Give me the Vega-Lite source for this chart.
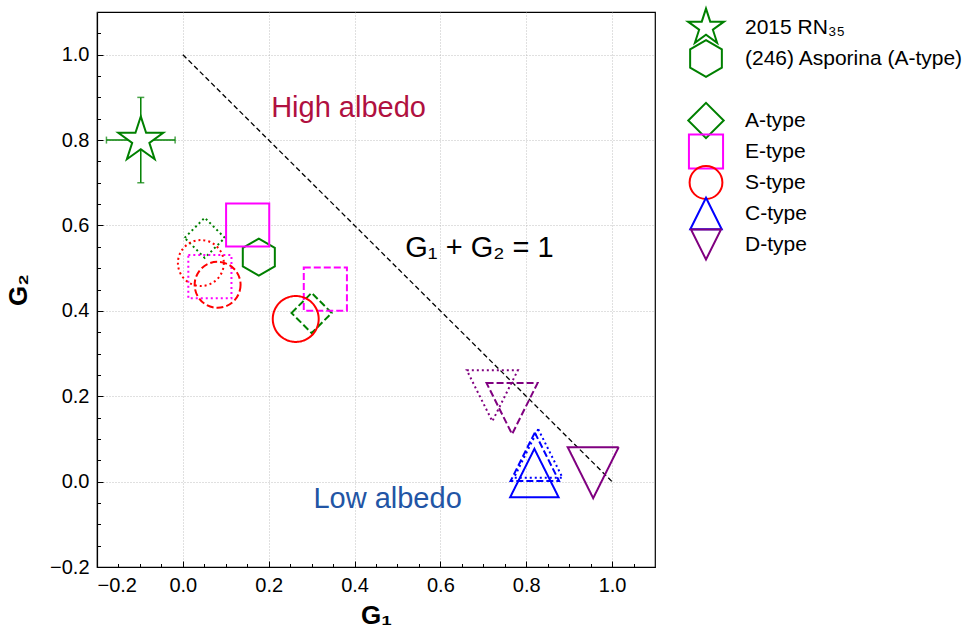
{
  "$schema": "https://vega.github.io/schema/vega-lite/v6.json",
  "padding": {"left": 4, "top": 4, "right": 5, "bottom": 3},
  "background": "white",
  "config": {
    "font": "Liberation Sans",
    "view": {"stroke": null},
    "concat": {"spacing": 28}
  },
  "datasets": {
    "points": [
      {"cls": "(246) Asporina (A-type)", "sample": "I", "G1": 0.177, "G2": 0.526},
      {"cls": "A-type", "sample": "III", "G1": 0.051, "G2": 0.571},
      {"cls": "A-type", "sample": "II", "G1": 0.300, "G2": 0.395},
      {"cls": "E-type", "sample": "I", "G1": 0.151, "G2": 0.601},
      {"cls": "E-type", "sample": "II", "G1": 0.332, "G2": 0.451},
      {"cls": "E-type", "sample": "III", "G1": 0.063, "G2": 0.480},
      {"cls": "S-type", "sample": "I", "G1": 0.263, "G2": 0.381},
      {"cls": "S-type", "sample": "II", "G1": 0.081, "G2": 0.461},
      {"cls": "S-type", "sample": "III", "G1": 0.042, "G2": 0.512},
      {"cls": "C-type", "sample": "I", "G1": 0.819, "G2": 0.020},
      {"cls": "C-type", "sample": "II", "G1": 0.820, "G2": 0.058},
      {"cls": "C-type", "sample": "III", "G1": 0.828, "G2": 0.066},
      {"cls": "D-type", "sample": "I", "G1": 0.956, "G2": 0.021},
      {"cls": "D-type", "sample": "II", "G1": 0.767, "G2": 0.171},
      {"cls": "D-type", "sample": "III", "G1": 0.721, "G2": 0.201}
    ],
    "star": [
      {"cls": "2015 RN₃₅", "G1": -0.098, "G2": 0.8, "G1err": 0.08, "G2err": 0.1}
    ],
    "diag": [
      {"G1": 0.0, "G2": 1.0},
      {"G1": 1.0, "G2": 0.0}
    ],
    "notes": [
      {"note": "High albedo", "G1": 0.386, "G2": 0.854},
      {"note": "Low albedo", "G1": 0.477, "G2": -0.061},
      {"note": "G₁ + G₂ = 1", "G1": 0.691, "G2": 0.526}
    ],
    "legend": [
      {"cls": "2015 RN₃₅"},
      {"cls": "(246) Asporina (A-type)"},
      {"cls": "A-type"},
      {"cls": "E-type"},
      {"cls": "S-type"},
      {"cls": "C-type"},
      {"cls": "D-type"}
    ]
  },
  "resolve": {"scale": {"x": "independent", "y": "independent", "shape": "independent", "size": "independent", "color": "independent", "stroke": "independent", "strokeDash": "independent"}},
  "hconcat": [
    {
      "width": 558,
      "height": 555,
      "view": {"stroke": "black", "strokeWidth": 1.2},
      "resolve": {"axis": {"x": "independent", "y": "independent"}},
      "layer": [
        {
          "data": {"name": "diag"},
          "mark": {"type": "line", "color": "black", "strokeDash": [5, 3], "strokeWidth": 1.3},
          "encoding": {
            "x": {
              "field": "G1", "type": "quantitative", "title": "G₁",
              "scale": {"domain": [-0.2, 1.1], "nice": false, "zero": false},
              "axis": {
                "orient": "bottom",
                "values": [-0.2, 0, 0.2, 0.4, 0.6, 0.8, 1.0],
                "format": ".1f",
                "labelFontSize": 20, "labelColor": "black", "labelPadding": 14,
                "tickSize": -6, "tickColor": "black", "tickWidth": 1,
                "domain": true, "domainColor": "black", "domainWidth": 1.2,
                "grid": true, "gridColor": "#b0b0b0", "gridDash": [1, 2], "gridWidth": 0.8,
                "titleFontSize": 26, "titleFontWeight": "bold", "titleColor": "black", "titlePadding": 7
              }
            },
            "y": {
              "field": "G2", "type": "quantitative", "title": "G₂",
              "scale": {"domain": [-0.2, 1.1], "nice": false, "zero": false},
              "axis": {
                "orient": "left",
                "values": [-0.2, 0, 0.2, 0.4, 0.6, 0.8, 1.0],
                "format": ".1f",
                "labelFontSize": 20, "labelColor": "black", "labelPadding": 14,
                "tickSize": -6, "tickColor": "black", "tickWidth": 1,
                "domain": true, "domainColor": "black", "domainWidth": 1.2,
                "grid": true, "gridColor": "#b0b0b0", "gridDash": [1, 2], "gridWidth": 0.8,
                "titleFontSize": 26, "titleFontWeight": "bold", "titleColor": "black", "titlePadding": 18
              }
            }
          }
        },
        {
          "data": {"name": "star"},
          "mark": {"type": "errorbar", "color": "green", "thickness": 1.5, "ticks": {"size": 7, "thickness": 1.5, "color": "green"}},
          "encoding": {
            "x": {"field": "G1", "type": "quantitative", "axis": null},
            "xError": {"field": "G1err"},
            "y": {"field": "G2", "type": "quantitative", "axis": null}
          }
        },
        {
          "data": {"name": "star"},
          "mark": {"type": "errorbar", "color": "green", "thickness": 1.5, "ticks": {"size": 7, "thickness": 1.5, "color": "green"}},
          "encoding": {
            "y": {"field": "G2", "type": "quantitative", "axis": null},
            "yError": {"field": "G2err"},
            "x": {"field": "G1", "type": "quantitative", "axis": null}
          }
        },
        {
          "data": {"name": "star"},
          "mark": {"type": "point", "shape": "M0,-1L0.2245,-0.309L0.951,-0.309L0.363,0.118L0.588,0.809L0,0.382L-0.588,0.809L-0.363,0.118L-0.951,-0.309L-0.2245,-0.309Z", "size": 2240, "filled": false, "fill": "white", "stroke": "green", "strokeWidth": 2, "opacity": 1},
          "encoding": {
            "x": {"field": "G1", "type": "quantitative", "axis": null},
            "y": {"field": "G2", "type": "quantitative", "axis": null}
          }
        },
        {
          "data": {"name": "points"},
          "mark": {"type": "point", "filled": false, "strokeWidth": 2, "opacity": 1},
          "encoding": {
            "x": {"field": "G1", "type": "quantitative",
              "axis": {"orient": "bottom", "values": [-0.15, -0.1, -0.05, 0.05, 0.1, 0.15, 0.25, 0.3, 0.35, 0.45, 0.5, 0.55, 0.65, 0.7, 0.75, 0.85, 0.9, 0.95, 1.05], "labels": false, "domain": false, "grid": false, "tickSize": -3.5, "tickColor": "black", "tickWidth": 1, "title": null}},
            "y": {"field": "G2", "type": "quantitative",
              "axis": {"orient": "left", "values": [-0.15, -0.1, -0.05, 0.05, 0.1, 0.15, 0.25, 0.3, 0.35, 0.45, 0.5, 0.55, 0.65, 0.7, 0.75, 0.85, 0.9, 0.95, 1.05], "labels": false, "domain": false, "grid": false, "tickSize": -3.5, "tickColor": "black", "tickWidth": 1, "title": null}},
            "stroke": {"field": "cls", "type": "nominal", "legend": null,
              "scale": {"domain": ["(246) Asporina (A-type)", "A-type", "E-type", "S-type", "C-type", "D-type"], "range": ["green", "green", "magenta", "red", "blue", "purple"]}},
            "shape": {"field": "cls", "type": "nominal", "legend": null,
              "scale": {"domain": ["(246) Asporina (A-type)", "A-type", "E-type", "S-type", "C-type", "D-type"], "range": ["M0,-1L0.866,-0.5L0.866,0.5L0,1L-0.866,0.5L-0.866,-0.5Z", "diamond", "square", "circle", "M0,-1L1,1L-1,1Z", "M-1,-1L1,-1L0,1Z"]}},
            "size": {"field": "cls", "type": "ordinal", "legend": null,
              "scale": {"domain": ["(246) Asporina (A-type)", "A-type", "E-type", "S-type", "C-type", "D-type"], "range": [1369, 2601, 1369, 1849, 1764, 1764]}},
            "strokeDash": {"field": "sample", "type": "nominal", "legend": null,
              "scale": {"domain": ["I", "II", "III"], "range": [[1, 0], [7, 3], [2, 3]]}}
          }
        },
        {
          "data": {"name": "notes"},
          "mark": {"type": "text", "fontSize": 29, "align": "center", "baseline": "alphabetic"},
          "encoding": {
            "x": {"field": "G1", "type": "quantitative", "axis": null},
            "y": {"field": "G2", "type": "quantitative", "axis": null},
            "text": {"field": "note"},
            "color": {"field": "note", "type": "nominal", "legend": null,
              "scale": {"domain": ["High albedo", "Low albedo", "G₁ + G₂ = 1"], "range": ["#b01040", "#2255a5", "black"]}}
          }
        }
      ]
    },
    {
      "width": 260,
      "height": 248,
      "data": {"name": "legend"},
      "encoding": {
        "x": {"datum": 0, "type": "quantitative", "scale": {"domain": [0, 1]}, "axis": null},
        "y": {"field": "cls", "type": "nominal", "axis": null,
          "scale": {"type": "point", "padding": 0.5, "domain": ["2015 RN₃₅", "(246) Asporina (A-type)", " ", "A-type", "E-type", "S-type", "C-type", "D-type"]}}
      },
      "layer": [
        {
          "mark": {"type": "point", "filled": false, "strokeWidth": 2, "opacity": 1},
          "encoding": {
            "stroke": {"field": "cls", "type": "nominal", "legend": null,
              "scale": {"domain": ["2015 RN₃₅", "(246) Asporina (A-type)", "A-type", "E-type", "S-type", "C-type", "D-type"], "range": ["green", "green", "green", "magenta", "red", "blue", "purple"]}},
            "shape": {"field": "cls", "type": "nominal", "legend": null,
              "scale": {"domain": ["2015 RN₃₅", "(246) Asporina (A-type)", "A-type", "E-type", "S-type", "C-type", "D-type"], "range": ["M0,-1L0.2245,-0.309L0.951,-0.309L0.363,0.118L0.588,0.809L0,0.382L-0.588,0.809L-0.363,0.118L-0.951,-0.309L-0.2245,-0.309Z", "M0,-1L0.866,-0.5L0.866,0.5L0,1L-0.866,0.5L-0.866,-0.5Z", "diamond", "square", "circle", "M0,-1L1,1L-1,1Z", "M-1,-1L1,-1L0,1Z"]}},
            "size": {"field": "cls", "type": "ordinal", "legend": null,
              "scale": {"domain": ["2015 RN₃₅", "(246) Asporina (A-type)", "A-type", "E-type", "S-type", "C-type", "D-type"], "range": [1430, 900, 1024, 484, 676, 676, 676]}}
          }
        },
        {
          "mark": {"type": "text", "fontSize": 21, "align": "left", "baseline": "middle", "dx": 39, "color": "black"},
          "encoding": {
            "text": {"field": "cls"}
          }
        }
      ]
    }
  ]
}
